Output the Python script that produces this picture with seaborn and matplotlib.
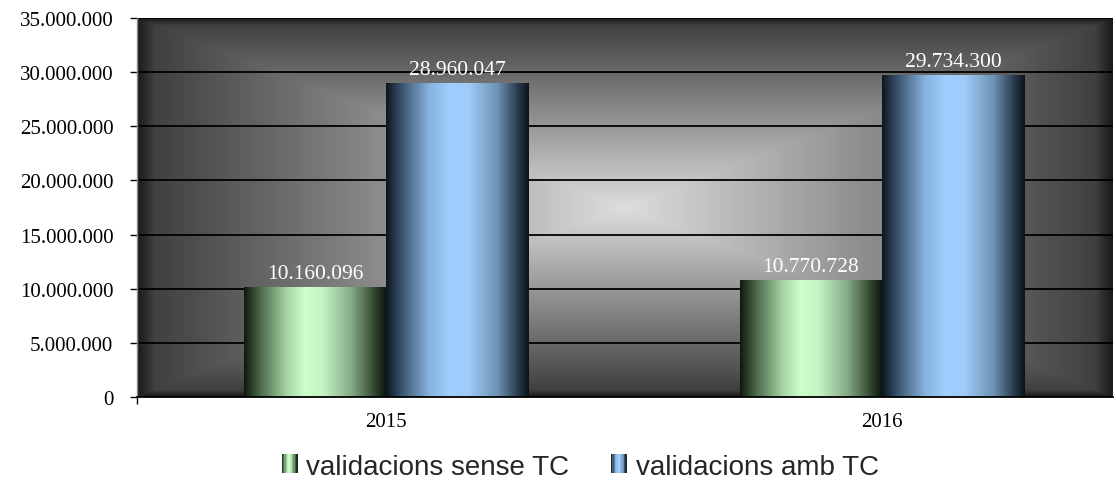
import numpy as np
import pandas as pd
import matplotlib
matplotlib.use("Agg")
import matplotlib.pyplot as plt
from matplotlib.colors import LinearSegmentedColormap
from matplotlib.patches import Rectangle
from matplotlib.legend_handler import HandlerBase
from matplotlib.ticker import FuncFormatter, MultipleLocator, FixedLocator
import seaborn as sns

# ---- data ----
years = ["2015", "2016"]
series_names = ["validacions sense TC", "validacions amb TC"]
sense_tc = [10160096, 10770728]
amb_tc = [28960047, 29734300]
series_colors = ["#ccffcc", "#a0ceff"]

df = pd.DataFrame({
    "year": years * 2,
    "serie": [series_names[0]] * 2 + [series_names[1]] * 2,
    "value": sense_tc + amb_tc,
})

sns.set_theme(style="white")
plt.rcParams["font.family"] = ["Liberation Serif", "DejaVu Serif"]

W, H = 1116, 481
fig = plt.figure(figsize=(W / 100, H / 100), dpi=100)
ax = fig.add_axes([137 / W, (481 - 398) / H, (1113 - 137) / W, (398 - 19) / H])

sns.barplot(data=df, x="year", y="value", hue="serie", hue_order=series_names,
            palette=series_colors, width=0.573, ax=ax, legend=False,
            saturation=1, errorbar=None)

xlim = (-0.502, 1.466)
ylim = (0, 35000000)

# ---- box-gradient background ----
nx, ny = 600, 300
u = np.linspace(-1, 1, nx)
v = np.linspace(-1, 1, ny)
U, V = np.meshgrid(u, v)
T = np.maximum(np.abs(U), np.abs(V))
B = 0.87 - 0.64 * T
B = B * (0.45 + 0.55 * np.clip((1 - T) / 0.035, 0, 1))
bg = np.dstack([B, B, B])
ax.imshow(bg, extent=(xlim[0], xlim[1], ylim[0], ylim[1]), aspect="auto",
          zorder=0, interpolation="bilinear", origin="lower")

# ---- gradient bars ----
green_cmap = LinearSegmentedColormap.from_list("g", [
    (0.0, "#0e1a0e"), (0.12, "#4f6e4f"), (0.3, "#a5d6a5"), (0.42, "#ccffcc"),
    (0.55, "#c4f5c4"), (0.75, "#86ac86"), (0.9, "#3a5039"), (1.0, "#0a120a")])
blue_cmap = LinearSegmentedColormap.from_list("b", [
    (0.0, "#0d1620"), (0.12, "#3e5a76"), (0.3, "#86b2dd"), (0.45, "#a0ceff"),
    (0.58, "#9ecbf8"), (0.78, "#6f92b5"), (0.92, "#2c3d4f"), (1.0, "#0c1218")])
grad = np.linspace(0, 1, 256).reshape(1, -1)
for p in list(ax.patches):
    x0, y0 = p.get_x(), p.get_y()
    w, h = p.get_width(), p.get_height()
    fc = p.get_facecolor()
    cmap = green_cmap if fc[1] > 0.95 and fc[0] > 0.75 else blue_cmap
    im = ax.imshow(grad, cmap=cmap, extent=(x0, x0 + w, y0, y0 + h),
                   aspect="auto", zorder=2, interpolation="bilinear")
    im.set_clip_path(p)
    p.set_facecolor("none")
    p.set_edgecolor("none")
    # value label
    ax.annotate(f"{int(round(h)):,}".replace(",", "."),
                (x0 + w / 2, y0 + h), xytext=(0, 6.5), textcoords="offset points",
                ha="center", va="baseline", color="white", fontsize=15.5,
                fontfamily="Liberation Serif", zorder=5)

ax.set_xlim(*xlim)
ax.set_ylim(*ylim)

# ---- grid & axes ----
ax.yaxis.set_major_locator(MultipleLocator(5000000))
ax.yaxis.set_major_formatter(FuncFormatter(lambda val, pos: f"{int(val):,}".replace(",", ".")))
ax.grid(axis="y", color="black", linewidth=1.3)
ax.grid(axis="x", visible=False)
ax.set_axisbelow(True)
for s in ["top", "right"]:
    ax.spines[s].set_visible(False)
ax.spines["left"].set_color("#8c8c8c")
ax.spines["left"].set_linewidth(1.0)
ax.spines["bottom"].set_color("black")
ax.spines["bottom"].set_linewidth(1.3)
ax.spines["bottom"].set_zorder(6)

ax.tick_params(axis="y", which="major", left=True, length=5, width=1, color="black",
               pad=12, labelsize=15, labelcolor="black")
ax.tick_params(axis="y", which="minor", left=False)
ax.tick_params(axis="x", which="major", bottom=False, length=0, pad=11,
               labelsize=15, labelcolor="black")
ax.xaxis.set_minor_locator(FixedLocator([xlim[0]]))
ax.tick_params(axis="x", which="minor", bottom=True, length=5, width=1, color="black")
ax.set_xlabel("")
ax.set_ylabel("")


# ---- legend with gradient swatches ----
class GradHandler(HandlerBase):
    def __init__(self, cmap):
        super().__init__()
        self.cmap = cmap

    def create_artists(self, legend, orig_handle, xdescent, ydescent, width,
                       height, fontsize, trans):
        arts = []
        n = 12
        for i in range(n):
            r = Rectangle((-xdescent + width * i / n, -ydescent), width / n + 0.3, height,
                          facecolor=self.cmap((i + 0.5) / n), edgecolor="none",
                          transform=trans)
            arts.append(r)
        return arts


h1 = Rectangle((0, 0), 1, 1)
h2 = Rectangle((0, 0), 1, 1)
fig.legend([h1, h2], series_names, loc="center", bbox_to_anchor=(0.52, 0.028),
           ncol=2, frameon=False,
           prop={"family": "Liberation Sans", "size": 20},
           handlelength=0.55, handleheight=0.66, handletextpad=0.33,
           columnspacing=1.5, borderpad=0,
           handler_map={h1: GradHandler(green_cmap), h2: GradHandler(blue_cmap)})

fig.savefig("out.png", dpi=100)
